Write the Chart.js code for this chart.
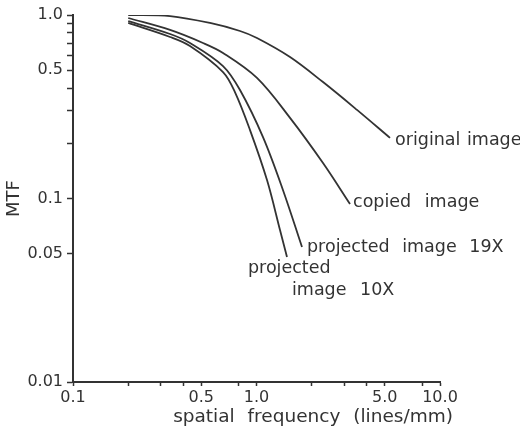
<!DOCTYPE html>
<html>
<head>
<meta charset="utf-8">
<script src="https://cdn.jsdelivr.net/npm/chart.js@4.4.1/dist/chart.umd.min.js"></script>
<style>
  html, body { margin: 0; padding: 0; background: #fff; }
  #wrap { width: 520px; height: 433px; }
</style>
</head>
<body>
<div id="wrap"><canvas id="mtf-chart"></canvas></div>
<script>
/* MTF vs spatial frequency, log-log */

// spatial frequency (lines/mm) and MTF
var FREQ_ORIGINAL = [0.2, 0.338, 0.558, 0.813, 1.006, 1.523, 2.304, 3.53, 5.34];
var MTF_ORIGINAL  = [1.0, 0.987, 0.905, 0.818, 0.749, 0.590, 0.431, 0.304, 0.214];

var FREQ_COPIED = [0.2, 0.338, 0.511, 0.657, 1.006, 1.523, 2.304, 3.233];
var MTF_COPIED  = [0.963, 0.829, 0.704, 0.621, 0.454, 0.275, 0.156, 0.0933];

var FREQ_PROJ19 = [0.2, 0.338, 0.434, 0.657, 0.813, 1.085, 1.395, 1.77];
var MTF_PROJ19  = [0.927, 0.788, 0.704, 0.527, 0.390, 0.216, 0.111, 0.0544];

var FREQ_PROJ10 = [0.2, 0.338, 0.434, 0.657, 0.763, 0.922, 1.141, 1.343, 1.466];
var MTF_PROJ10  = [0.905, 0.759, 0.678, 0.489, 0.380, 0.236, 0.126, 0.0673, 0.048];

var SERIES_LABELS = ['original image', 'copied image', 'projected image 19X', 'projected\nimage 10X'];

var X_TICKS = [0.1, 0.2, 0.3, 0.4, 0.5, 0.8, 1, 2, 3, 4, 5, 8, 10];
var X_LABELED = [0.1, 0.5, 1, 5, 10];
var X_TICK_LABELS = ['0.1', '0.5', '1.0', '5.0', '10.0'];

var Y_TICKS = [0.01, 0.05, 0.1, 0.2, 0.3, 0.4, 0.5, 0.6, 0.7, 0.8, 0.9, 1];
var Y_LABELED = [0.01, 0.05, 0.1, 0.5, 1];
var Y_TICK_LABELS = ['0.01', '0.05', '0.1', '0.5', '1.0'];

var X_TITLE = 'spatial frequency (lines/mm)';
var Y_TITLE = 'MTF';

(function () {
  'use strict';

  var INK = '#333333';
  var FONT = "'DejaVu Sans', sans-serif";

  function toPoints(xs, ys) {
    return xs.map(function (x, i) { return { x: x, y: ys[i] }; });
  }

  function makeSet(label, xs, ys) {
    return {
      label: label,
      data: toPoints(xs, ys),
      showLine: true,
      borderColor: INK,
      borderWidth: 1.8,
      pointRadius: 0,
      fill: false,
      tension: 0.35
    };
  }

  // where each label line sits relative to the end of its curve (px), plus word gap
  var LABEL_OFFSETS = [
    [[5, 3]],
    [[3, -2]],
    [[5, 0]],
    [[-39, 11], [5, 33]]
  ];
  var WORD_GAPS = ['1px', '8px', '7px', '8px'];

  var endLabels = {
    id: 'endLabels',
    afterDatasetsDraw: function (chart) {
      var ctx = chart.ctx;
      ctx.save();
      ctx.fillStyle = INK;
      ctx.font = '17.5px ' + FONT;
      ctx.textAlign = 'left';
      ctx.textBaseline = 'middle';
      chart.data.datasets.forEach(function (ds, i) {
        var meta = chart.getDatasetMeta(i);
        var last = meta.data[meta.data.length - 1];
        ctx.wordSpacing = WORD_GAPS[i];
        SERIES_LABELS[i].split('\n').forEach(function (txt, j) {
          var off = LABEL_OFFSETS[i][j];
          ctx.fillText(txt, last.x + off[0], last.y + off[1]);
        });
      });
      // x axis title
      var area = chart.chartArea;
      ctx.font = '18.5px ' + FONT;
      ctx.wordSpacing = '7px';
      ctx.textAlign = 'right';
      ctx.fillText(X_TITLE, area.right + 13, 417);
      ctx.restore();
    }
  };

  new Chart(document.getElementById('mtf-chart'), {
    type: 'scatter',
    data: {
      datasets: [
        makeSet(SERIES_LABELS[0], FREQ_ORIGINAL, MTF_ORIGINAL),
        makeSet(SERIES_LABELS[1], FREQ_COPIED, MTF_COPIED),
        makeSet(SERIES_LABELS[2], FREQ_PROJ19, MTF_PROJ19),
        makeSet(SERIES_LABELS[3], FREQ_PROJ10, MTF_PROJ10)
      ]
    },
    options: {
      responsive: true,
      maintainAspectRatio: false,
      animation: false,
      layout: { padding: { top: 15, right: 80, left: 0, bottom: 0 } },
      plugins: {
        legend: { display: false },
        tooltip: { enabled: false }
      },
      scales: {
        x: {
          type: 'logarithmic',
          min: 0.1,
          max: 10,
          afterBuildTicks: function (scale) {
            scale.ticks = X_TICKS.map(function (v) { return { value: v }; });
          },
          afterFit: function (scale) { scale.height = 51; },
          ticks: {
            autoSkip: false,
            maxRotation: 0,
            padding: 2,
            color: INK,
            font: { family: FONT, size: 16 },
            callback: function (v) {
              var k = X_LABELED.indexOf(v);
              return k < 0 ? '' : X_TICK_LABELS[k];
            }
          },
          grid: { drawOnChartArea: false, drawTicks: true, tickLength: 4, tickColor: INK, tickWidth: 1.5 },
          border: { display: true, color: INK, width: 2 }
        },
        y: {
          type: 'logarithmic',
          min: 0.01,
          max: 1,
          afterBuildTicks: function (scale) {
            scale.ticks = Y_TICKS.map(function (v) { return { value: v }; });
          },
          afterFit: function (scale) { scale.width = 73; },
          ticks: {
            autoSkip: false,
            padding: 4,
            color: INK,
            font: { family: FONT, size: 16 },
            callback: function (v) {
              var k = Y_LABELED.indexOf(v);
              return k < 0 ? '' : Y_TICK_LABELS[k];
            }
          },
          title: {
            display: true,
            text: Y_TITLE,
            color: INK,
            font: { family: FONT, size: 18 },
            padding: { top: 4, bottom: 0 }
          },
          grid: { drawOnChartArea: false, drawTicks: true, tickLength: 6, tickColor: INK, tickWidth: 1.5 },
          border: { display: true, color: INK, width: 2 }
        }
      }
    },
    plugins: [endLabels]
  });
})();
</script>
</body>
</html>
